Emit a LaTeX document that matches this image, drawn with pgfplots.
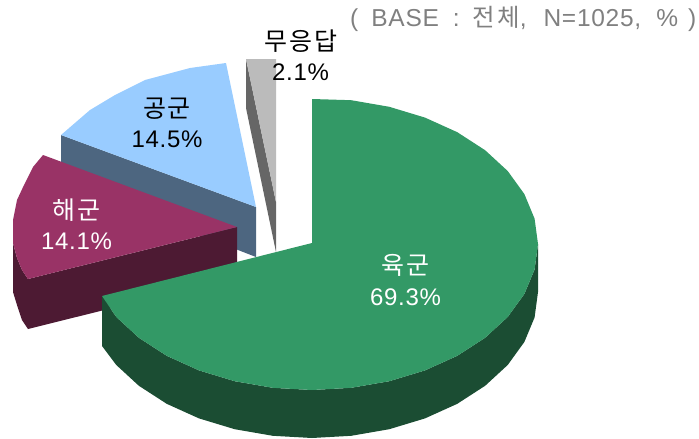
\documentclass[border=0pt]{standalone}
\usepackage{pgfplots}
\pgfplotsset{compat=1.18}
\usepackage{fontspec}
\setmainfont{Liberation Sans}[LetterSpace=3]
\newfontfamily\cjk{Noto Sans CJK KR}[LetterSpace=8]
\definecolor{grn}{HTML}{339966}
\definecolor{grnd}{HTML}{1B4D33}
\definecolor{mar}{HTML}{993366}
\definecolor{mard}{HTML}{4D1A33}
\definecolor{blu}{HTML}{99CCFF}
\definecolor{blud}{HTML}{4D6680}
\definecolor{gry}{HTML}{BBBBBB}
\definecolor{gryd}{HTML}{666666}
\definecolor{ttl}{HTML}{808080}
\newcommand{\han}[1]{{\fontsize{25}{30}\selectfont\cjk #1}}
\tikzset{lab/.style={font=\fontsize{24}{30.5}\selectfont,align=center,anchor=center}}
\begin{document}
\begin{tikzpicture}
\begin{axis}[hide axis,scale only axis,width=699pt,height=439pt,xmin=0,xmax=699,ymin=0,ymax=439,y dir=reverse,clip=false]
\path (axis cs:0,0) rectangle (axis cs:699,439);
% grey slice (no answer, 2.1%)
\addplot[fill=gryd,draw=none] coordinates {(246,59)(276,202)(276,252)(246,108)} --cycle;
\addplot[fill=gry,draw=none] coordinates {(246,59)(276,59)(276,202)} --cycle;
% blue slice (air force, 14.5%)
\addplot[fill=blud,draw=none] coordinates {(61,135)(256,207)(256,257)(238,250)(61,185)} --cycle;
\addplot[fill=blu,draw=none] coordinates {(226,63)(190,68)(145,80)(115,95)(90,110)(61,135)(256,207)} --cycle;
% maroon slice (navy, 14.1%)
\addplot[fill=mard,draw=none] coordinates {(13,243)(17,258)(22,270)(28,279)(237,227)(237,277)(28,329)(22,320)(17,305)(13,292)} --cycle;
\addplot[fill=mar,draw=none] coordinates {(43,155)(33,167)(24,185)(17,200)(13,220)(13,243)(17,258)(22,270)(28,279)(237,227)} --cycle;
% green slice (army, 69.3%)
\addplot[fill=grnd,draw=none] coordinates {(538,244)(534.6,269.4)(524.4,293.9)(507.7,317)(485.1,337.8)(457.3,355.8)(425,370.4)(389.3,381.2)(351.2,387.8)(312,390)(272.8,387.8)(234.7,381.2)(199,370.4)(166.7,355.8)(138.9,337.8)(116.3,317)(102,296)(102,346)(116.3,365)(138.9,385.8)(166.7,403.8)(199,418.4)(234.7,429.2)(272.8,435.8)(312,438)(351.2,435.8)(389.3,429.2)(425,418.4)(457.3,403.8)(485.1,385.8)(507.7,365)(524.4,341.9)(534.6,317.4)(538,292)} --cycle;
\addplot[fill=grn,draw=none] coordinates {(312,99)(351.2,100.2)(389.3,106.8)(425,117.6)(457.3,132.2)(485.1,150.2)(507.7,171)(524.4,194.1)(534.6,218.7)(538,244)(534.6,269.4)(524.4,293.9)(507.7,317)(485.1,337.8)(457.3,355.8)(425,370.4)(389.3,381.2)(351.2,387.8)(312,390)(272.8,387.8)(234.7,381.2)(199,370.4)(166.7,355.8)(138.9,337.8)(116.3,317)(102,296)(312,243)} --cycle;
% labels
\node[lab,text=black] at (axis cs:300.5,55) {\han{무응답}\\2.1\%};
\node[lab,text=black] at (axis cs:167,123) {\han{공군}\\14.5\%};
\node[lab,text=white] at (axis cs:76.5,224) {\han{해군}\\14.1\%};
\node[lab,text=white] at (axis cs:405.5,280) {\han{육군}\\69.3\%};
\node[font=\fontsize{24.5}{26}\selectfont,text=ttl,anchor=west,inner sep=0pt] at (axis cs:350,18.5) {(\hspace{13pt}BASE\hspace{14pt}:\hspace{13pt}{\cjk 전체},\hspace{17pt}N=1025,\hspace{15pt}\%\hspace{10pt})};
\end{axis}
\end{tikzpicture}
\end{document}
